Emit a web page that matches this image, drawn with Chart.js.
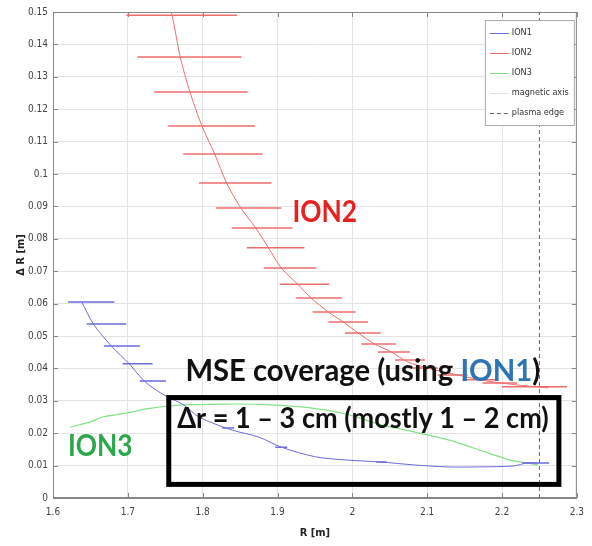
<!DOCTYPE html>
<html>
<head>
<meta charset="utf-8">
<script src="https://cdn.jsdelivr.net/npm/chart.js@4.4.1/dist/chart.umd.min.js"></script>
<style>
  html, body { margin: 0; padding: 0; background: #fff; }
</style>
</head>
<body>
<canvas id="chart" width="592" height="546"></canvas>
<script>
// axis ticks
const xTicks = [1.6, 1.7, 1.8, 1.9, 2.0, 2.1, 2.2, 2.3];
const yTicks = [0, 0.01, 0.02, 0.03, 0.04, 0.05, 0.06, 0.07, 0.08, 0.09, 0.10, 0.11, 0.12, 0.13, 0.14, 0.15];

// ION1 curve + horizontal error bars
const ion1R  = [1.6385, 1.654, 1.678, 1.702, 1.722, 1.746, 1.775, 1.795, 1.839, 1.875, 1.905, 1.951, 1.994, 2.038, 2.083, 2.127, 2.170, 2.216, 2.233, 2.247];
const ion1dR = [0.0605, 0.0537, 0.0469, 0.0414, 0.0361, 0.0321, 0.0287, 0.0250, 0.0210, 0.0188, 0.0157, 0.0127, 0.0117, 0.0111, 0.0102, 0.0096, 0.0096, 0.0099, 0.0108, 0.0108];
const ion1BarY  = [0.0605, 0.0537, 0.0469, 0.0414, 0.0361, 0.0216, 0.0157, 0.0111, 0.0108];
const ion1BarLo = [1.620, 1.645, 1.668, 1.693, 1.716, 1.826, 1.897, 2.032, 2.227];
const ion1BarHi = [1.682, 1.698, 1.716, 1.733, 1.751, 1.842, 1.913, 2.046, 2.263];

// ION2 curve + horizontal error bars
const ion2R  = [1.752, 1.758, 1.770, 1.783, 1.799, 1.816, 1.832, 1.851, 1.871, 1.888, 1.905, 1.927, 1.945, 1.968, 1.988, 2.008, 2.030, 2.052, 2.074, 2.101, 2.140, 2.180, 2.220, 2.247, 2.262];
const ion2dR = [0.152, 0.150, 0.1361, 0.1253, 0.1148, 0.1062, 0.0972, 0.0895, 0.0833, 0.0772, 0.0710, 0.0660, 0.0617, 0.0574, 0.0543, 0.0509, 0.0475, 0.0451, 0.0420, 0.0401, 0.0380, 0.0361, 0.0349, 0.0343, 0.0340];
const ion2BarY  = [0.149, 0.1361, 0.1253, 0.1148, 0.1062, 0.0972, 0.0895, 0.0833, 0.0772, 0.0710, 0.0660, 0.0617, 0.0574, 0.0543, 0.0509, 0.0475, 0.0451, 0.0426, 0.0401, 0.0380, 0.0365, 0.0355, 0.0343];
const ion2BarLo = [1.698, 1.713, 1.735, 1.754, 1.774, 1.795, 1.818, 1.839, 1.859, 1.882, 1.903, 1.925, 1.947, 1.968, 1.990, 2.012, 2.034, 2.057, 2.078, 2.114, 2.147, 2.174, 2.200];
const ion2BarHi = [1.846, 1.852, 1.860, 1.870, 1.880, 1.892, 1.905, 1.920, 1.936, 1.952, 1.969, 1.986, 2.004, 2.021, 2.038, 2.058, 2.077, 2.097, 2.114, 2.154, 2.194, 2.220, 2.287];

// ION3 curve
const ion3R  = [1.623, 1.650, 1.666, 1.698, 1.725, 1.755, 1.786, 1.831, 1.875, 1.941, 1.990, 2.040, 2.070, 2.127, 2.180, 2.211, 2.233, 2.248];
const ion3dR = [0.0219, 0.0235, 0.0250, 0.0262, 0.0275, 0.0284, 0.0288, 0.0290, 0.0289, 0.0279, 0.0260, 0.0225, 0.0210, 0.0180, 0.0140, 0.0117, 0.0108, 0.0102];

// plasma edge (vertical dashed line)
const plasmaEdgeR = [2.25, 2.25];
const plasmaEdgedR = [0, 0.15];

const BLUE = "#6c6cdc", RED = "#ee6e6e", GREEN = "#86e086";
const TICK_FONT = "'Liberation Sans Narrow', 'DejaVu Sans Condensed', Arial, sans-serif";

function pts(xs, ys) {
  return xs.map((x, i) => ({ x, y: ys[i] }));
}

function barPts(ys, lo, hi) {
  const out = [];
  ys.forEach((y, i) => {
    out.push({ x: lo[i], y }, { x: hi[i], y }, { x: hi[i], y: null });
  });
  return out;
}

function lineSet(label, data, color, width, extra) {
  return Object.assign({
    label, data, borderColor: color, backgroundColor: color,
    borderWidth: width, showLine: true, pointRadius: 0, spanGaps: false
  }, extra || {});
}

// legend drawn inside the axes, top right
const legendPlugin = {
  id: "boxLegend",
  afterDraw(chart) {
    const { ctx, chartArea } = chart;
    const items = chart.data.datasets.filter(d => d.inLegend);
    const x0 = chartArea.right - 92, y0 = chartArea.top + 8, w = 89, h = 105;
    ctx.save();
    ctx.fillStyle = "#fff";
    ctx.fillRect(x0, y0, w, h);
    ctx.strokeStyle = "#aaa";
    ctx.lineWidth = 1;
    ctx.strokeRect(x0 + 0.5, y0 + 0.5, w, h);
    ctx.font = "9px " + TICK_FONT;
    ctx.textBaseline = "middle";
    items.forEach((d, i) => {
      const y = y0 + 13 + i * 20;
      ctx.strokeStyle = d.borderColor;
      ctx.lineWidth = 1;
      ctx.setLineDash(d.borderDash || []);
      ctx.beginPath();
      ctx.moveTo(x0 + 5, y + 0.5);
      ctx.lineTo(x0 + 24, y + 0.5);
      ctx.stroke();
      ctx.setLineDash([]);
      ctx.fillStyle = "#333";
      ctx.fillText(d.label, x0 + 27, y);
    });
    ctx.restore();
  }
};

// frame around axes with mirrored ticks on top/right
const framePlugin = {
  id: "frame",
  beforeDatasetsDraw(chart) {
    const { ctx, chartArea: a, scales } = chart;
    ctx.save();
    ctx.strokeStyle = "#888";
    ctx.lineWidth = 1;
    ctx.strokeRect(a.left + 0.5, a.top + 0.5, a.right - a.left - 1, a.bottom - a.top - 1);
    ctx.beginPath();
    yTicks.forEach(v => {
      const y = Math.round(scales.y.getPixelForValue(v)) + 0.5;
      ctx.moveTo(a.right, y); ctx.lineTo(a.right - 5, y);
      ctx.moveTo(a.left, y); ctx.lineTo(a.left + 5, y);
    });
    xTicks.forEach(v => {
      const x = Math.round(scales.x.getPixelForValue(v)) + 0.5;
      ctx.moveTo(x, a.top); ctx.lineTo(x, a.top + 5);
      ctx.moveTo(x, a.bottom); ctx.lineTo(x, a.bottom - 5);
    });
    ctx.stroke();
    ctx.restore();
  }
};

// annotation texts and the black box, placed in data coordinates
const notes = {
  box: { r0: 1.7547, r1: 2.276, d0: 0.0042, d1: 0.0310 },
  ion2: { r0: 1.9200, r1: 2.0063, d: 0.0852, parts: [["ION2", "#e82020"]] },
  mse: { r0: 1.7770, r1: 2.2510, d: 0.0361, parts: [["MSE coverage (using ", "#111"], ["ION1", "#2e75b6"], [")", "#111"]] },
  dr: { r0: 1.7660, r1: 2.2625, d: 0.0216, parts: [["\u0394r = 1 \u2013 3 cm (mostly 1 \u2013 2 cm)", "#111"]] },
  ion3: { r0: 1.6200, r1: 1.7063, d: 0.0130, parts: [["ION3", "#2aa84a"]] }
};

function fitText(ctx, sx, sy, n, size) {
  const left = sx.getPixelForValue(n.r0), right = sx.getPixelForValue(n.r1);
  const base = sy.getPixelForValue(n.d);
  ctx.font = "bold " + size + "px Lato, 'Open Sans', sans-serif";
  const widths = n.parts.map(p => ctx.measureText(p[0]).width);
  const total = widths.reduce((a, b) => a + b, 0);
  ctx.save();
  ctx.translate(left, base);
  ctx.scale((right - left) / total, 1);
  ctx.textBaseline = "alphabetic";
  let x = 0;
  n.parts.forEach((p, i) => {
    ctx.fillStyle = p[1];
    ctx.fillText(p[0], x, 0);
    x += widths[i];
  });
  ctx.restore();
}

const notesPlugin = {
  id: "notes",
  afterDatasetsDraw(chart) {
    const { ctx, scales } = chart;
    const sx = scales.x, sy = scales.y;
    const b = notes.box;
    ctx.save();
    ctx.strokeStyle = "#000";
    ctx.lineWidth = 5;
    const bx = sx.getPixelForValue(b.r0), by = sy.getPixelForValue(b.d1);
    ctx.strokeRect(bx, by, sx.getPixelForValue(b.r1) - bx, sy.getPixelForValue(b.d0) - by);
    ctx.restore();
    fitText(ctx, sx, sy, notes.ion2, 30);
    fitText(ctx, sx, sy, notes.mse, 30);
    fitText(ctx, sx, sy, notes.dr, 28);
    fitText(ctx, sx, sy, notes.ion3, 30);
  }
};

const fmt = v => String(Number(v.toFixed(2)));

new Chart(document.getElementById("chart"), {
  type: "scatter",
  data: {
    datasets: [
      lineSet("ION1", pts(ion1R, ion1dR), BLUE, 1, { inLegend: true, tension: 0.3 }),
      lineSet("ION1 err", barPts(ion1BarY, ion1BarLo, ion1BarHi), BLUE, 1.5),
      lineSet("ION2", pts(ion2R, ion2dR), RED, 1, { inLegend: true, tension: 0.3 }),
      lineSet("ION2 err", barPts(ion2BarY, ion2BarLo, ion2BarHi), RED, 1.5),
      lineSet("ION3", pts(ion3R, ion3dR), GREEN, 1.2, { inLegend: true, tension: 0.3 }),
      lineSet("magnetic axis", [], "#e4e4e4", 1, { inLegend: true }),
      lineSet("plasma edge", pts(plasmaEdgeR, plasmaEdgedR), "#666", 1, { inLegend: true, borderDash: [4, 3] })
    ]
  },
  options: {
    responsive: false,
    animation: false,
    layout: { padding: { top: 12, right: 12, left: 0, bottom: 0 } },
    plugins: { legend: { display: false }, tooltip: { enabled: false } },
    scales: {
      x: {
        type: "linear", min: 1.6, max: 2.3,
        afterBuildTicks: s => { s.ticks = xTicks.map(v => ({ value: v })); },
        afterFit: s => { s.height = 48; },
        grid: { color: "#e4e4e4", drawTicks: false },
        border: { display: true, color: "#888" },
        ticks: { padding: 8, color: "#444", font: { size: 10, family: TICK_FONT }, callback: v => fmt(v), maxRotation: 0 },
        title: { display: true, text: "R [m]", color: "#222", font: { size: 11, weight: "bold", family: TICK_FONT }, padding: { top: 0, bottom: 6 } }
      },
      y: {
        type: "linear", min: 0, max: 0.15,
        afterBuildTicks: s => { s.ticks = yTicks.map(v => ({ value: v })); },
        afterFit: s => { s.width = 53; },
        grid: { color: "#e4e4e4", drawTicks: false },
        border: { display: true, color: "#888" },
        ticks: { padding: 5, color: "#444", font: { size: 10, family: TICK_FONT }, callback: v => fmt(v) },
        title: { display: true, text: "\u0394 R [m]", color: "#222", font: { size: 11, weight: "bold", family: TICK_FONT }, padding: { top: 15, bottom: 0 } }
      }
    }
  },
  plugins: [framePlugin, notesPlugin, legendPlugin]
});
</script>
</body>
</html>
